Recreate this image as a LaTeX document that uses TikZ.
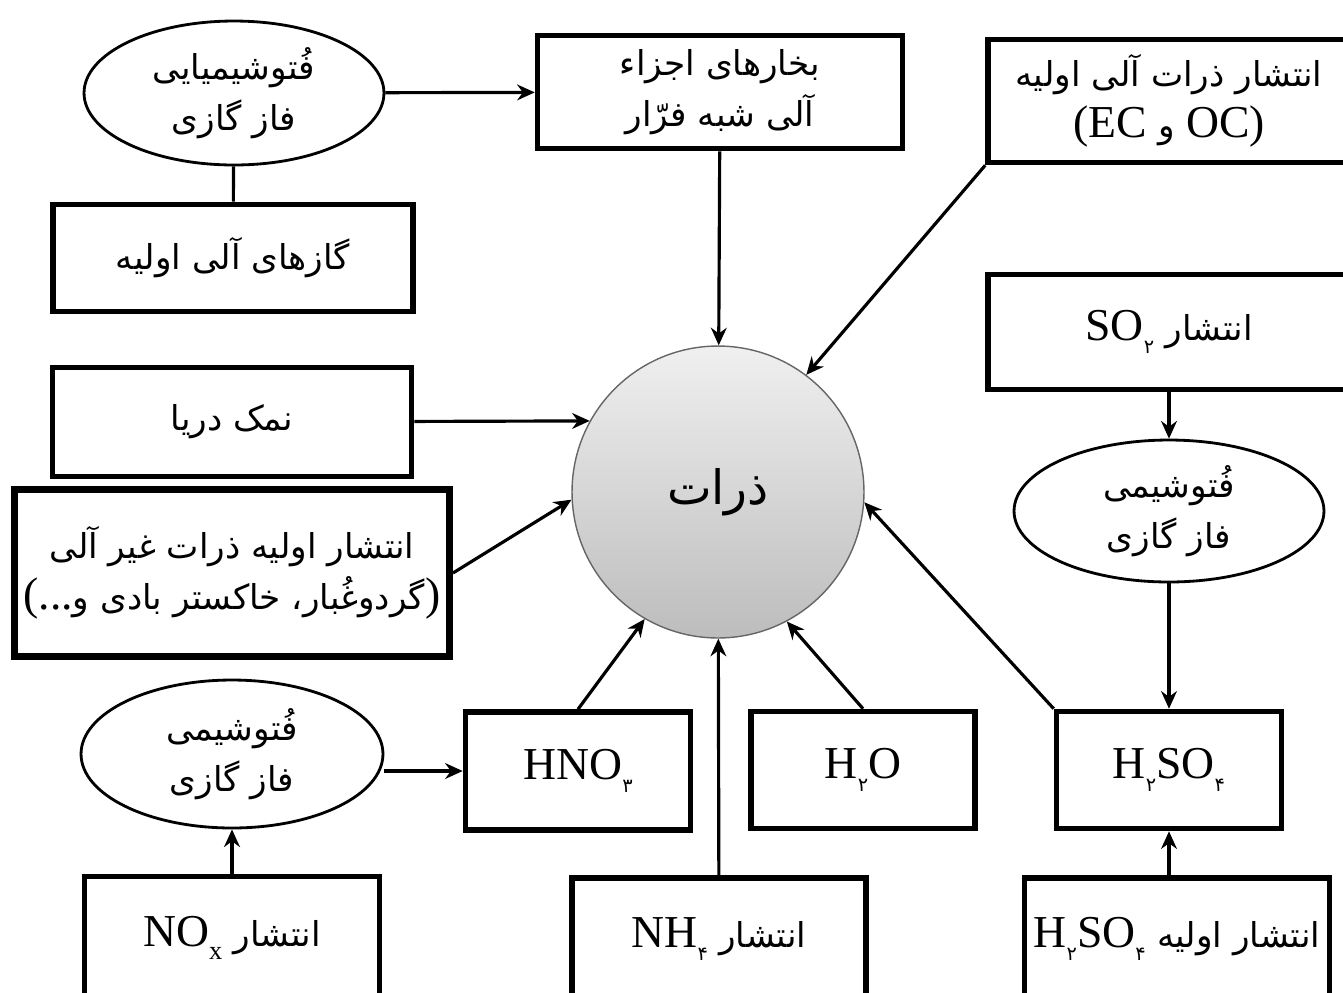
\documentclass[tikz,border=0pt]{standalone}
\usepackage{fontspec}
\setmainfont{Liberation Serif}
\newfontfamily\fa[Script=Arabic]{DejaVu Sans}
\TeXXeTstate=1
\usetikzlibrary{arrows.meta,shapes.geometric}

\newcommand{\rl}[1]{{\fa\fontsize{19.5}{28}\selectfont\beginR #1\endR}}
\newcommand{\persub}[1]{\raisebox{-0.6ex}{\fa\fontsize{11}{11}\selectfont #1}}
\newcommand{\latsub}[1]{\raisebox{-0.6ex}{\fontsize{15}{15}\selectfont #1}}

\tikzset{
	box/.style={draw, line width=3.2pt, inner sep=0pt, align=center, font=\fontsize{26}{29}\selectfont},
	oval/.style={draw, ellipse, line width=1.6pt, inner sep=0pt, align=center, font=\fontsize{26}{29}\selectfont},
	flow/.style={line width=1.8pt, -{Stealth[length=10pt,width=9pt]}},
}

\begin{document}
\begin{tikzpicture}[x=0.02cm, y=-0.02cm]
	\useasboundingbox (0,0) rectangle (1343,992);
	\clip (0,0) rectangle (1343,992);

	% left column
	\node[oval, minimum width=6cm, minimum height=2.88cm] (photoA) at (234,93) {\rl{فُتوشیمیایی}\\\rl{فاز گازی}};
	\node[box, minimum width=7.2cm, minimum height=2.14cm] (gases) at (233,258) {\rl{گازهای آلی اولیه}};
	\node[box, minimum width=7.18cm, minimum height=2.18cm] (salt) at (232,422) {\rl{نمک دریا}};
	\node[box, line width=4pt, minimum width=8.7cm, minimum height=3.34cm] (inorg) at (232,573) {\rl{انتشار اولیه ذرات غیر آلی}\\(...\rl{گردوغُبار، خاکستر بادی و})};
	\node[oval, minimum width=6.04cm, minimum height=2.96cm] (photoN) at (232,754) {\rl{فُتوشیمی}\\\rl{فاز گازی}};
	\node[box, minimum width=5.9cm, minimum height=2.46cm] (nox) at (232,938) {NO\latsub{x} \rl{انتشار}};

	% middle
	\node[box, minimum width=7.3cm, minimum height=2.26cm] (vapour) at (720,92) {\rl{بخارهای اجزاء}\\\rl{آلی شبه فرّار}};
	\node[circle, draw=black!60, line width=0.8pt, top color=black!6, bottom color=black!26, minimum size=5.84cm] (pm) at (718,492) {\fa\fontsize{27}{27}\selectfont ذرات};
	\node[box, minimum width=4.5cm, minimum height=2.36cm] (hno) at (578,771) {HNO\persub{۳}};
	\node[box, minimum width=4.48cm, minimum height=2.34cm] (water) at (863,770) {H\persub{۲}O};
	\node[box, minimum width=5.88cm, minimum height=2.44cm] (nh) at (719,939) {NH\persub{۴} \rl{انتشار}};

	% right column
	\node[box, minimum width=7.24cm, minimum height=2.46cm] (organic) at (1169,101) {\rl{انتشار ذرات آلی اولیه}\\(EC \rl{و} OC)};
	\node[box, minimum width=7.24cm, minimum height=2.3cm] (so) at (1169,332) {SO\persub{۲} \rl{انتشار}};
	\node[oval, minimum width=6.2cm, minimum height=2.84cm] (photoS) at (1169,511) {\rl{فُتوشیمی}\\\rl{فاز گازی}};
	\node[box, minimum width=4.5cm, minimum height=2.34cm] (sulf) at (1169,770) {H\persub{۲}SO\persub{۴}};
	\node[box, minimum width=6.1cm, minimum height=2.44cm] (sulfp) at (1177,939) {H\persub{۲}SO\persub{۴} \rl{انتشار اولیه}};

	% connectors
	\draw[line width=1.8pt] (photoA) -- (gases);
	\draw[flow] (photoA) -- (vapour);
	\draw[flow] (vapour) -- (pm);
	\draw[flow] (organic.south west) -- (pm.53);
	\draw[flow] (salt) -- (pm.151);
	\draw[flow] (inorg.east) -- (pm.183);
	\draw[flow] (hno.north) -- (pm.240);
	\draw[flow] (water.north) -- (pm.298);
	\draw[flow] (nh) -- (pm);
	\draw[flow] (sulf.north west) -- (pm.356);
	\draw[flow] (so) -- (photoS);
	\draw[flow] (photoS) -- (sulf);
	\draw[flow] (sulfp.north -| sulf.south) -- (sulf.south);
	\draw[flow] (nox) -- (photoN);
	\draw[flow] (photoN.east |- hno.west) -- (hno.west);
\end{tikzpicture}
\end{document}
